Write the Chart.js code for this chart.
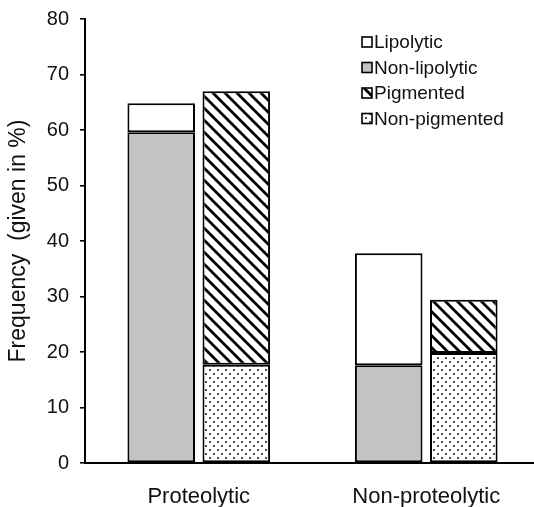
<!DOCTYPE html>
<html>
<head>
<meta charset="utf-8">
<script src="https://cdn.jsdelivr.net/npm/chart.js@4.4.0/dist/chart.umd.min.js"></script>
<style>
  html, body { margin: 0; padding: 0; background: #fff; overflow: hidden; }
  #wrap { position: relative; width: 540px; height: 507px; }
</style>
</head>
<body>
<div id="wrap"><canvas id="chart"></canvas></div>
<script>
const categories = ['Proteolytic', 'Non-proteolytic'];
const lipolytic = [5.2, 20.2];
const nonLipolytic = [59.6, 17.6];
const pigmented = [49.3, 9.6];
const nonPigmented = [17.7, 19.8];
const yTicks = [0, 10, 20, 30, 40, 50, 60, 70, 80];
const legendOrder = ['Lipolytic', 'Non-lipolytic', 'Pigmented', 'Non-pigmented'];

const FONT = "'Liberation Sans', Arial, sans-serif";

function makePattern(kind) {
  const c = document.createElement('canvas');
  const s = kind === 'hatch' ? 12 : 8;
  c.width = s; c.height = s;
  const g = c.getContext('2d');
  g.fillStyle = '#fff';
  g.fillRect(0, 0, s, s);
  g.fillStyle = '#000';
  g.strokeStyle = '#000';
  if (kind === 'hatch') {
    g.lineWidth = 2.8;
    g.beginPath();
    g.moveTo(-2, -2); g.lineTo(s + 2, s + 2);
    g.moveTo(-2, s - 2); g.lineTo(2, s + 2);
    g.moveTo(s - 2, -2); g.lineTo(s + 2, 2);
    g.stroke();
  } else {
    g.beginPath(); g.arc(2, 2, 0.95, 0, Math.PI * 2); g.fill();
    g.beginPath(); g.arc(6, 6, 0.95, 0, Math.PI * 2); g.fill();
  }
  return g.createPattern(c, 'repeat');
}

const hatch = makePattern('hatch');
const dots = makePattern('dots');
const grey = '#c3c3c3';

function bar(label, data, stack, fill) {
  return {
    label, data, stack,
    backgroundColor: fill,
    borderColor: '#000',
    borderWidth: 2,
    borderSkipped: false,
    barPercentage: 0.9,
    categoryPercentage: 0.66
  };
}

// small legend drawn inside the plot, top right
const insideLegend = {
  id: 'insideLegend',
  afterDraw(chart) {
    const ctx = chart.ctx;
    ctx.save();
    ctx.font = '19px ' + FONT;
    ctx.textBaseline = 'middle';
    legendOrder.forEach((name, i) => {
      const ds = chart.data.datasets.find(d => d.label === name);
      const y = 42 + i * 25.5;
      const x = 362;
      ctx.fillStyle = ds.backgroundColor;
      ctx.fillRect(x, y - 5, 10, 10);
      ctx.strokeStyle = '#000';
      ctx.lineWidth = 1.6;
      ctx.strokeRect(x, y - 5, 10, 10);
      ctx.fillStyle = '#111';
      ctx.fillText(name, x + 12, y + 1);
    });
    ctx.restore();
  }
};

new Chart(document.getElementById('chart'), {
  type: 'bar',
  data: {
    labels: categories,
    datasets: [
      bar('Non-lipolytic', nonLipolytic, 'lip', grey),
      bar('Lipolytic', lipolytic, 'lip', '#fff'),
      bar('Non-pigmented', nonPigmented, 'pig', dots),
      bar('Pigmented', pigmented, 'pig', hatch)
    ]
  },
  options: {
    responsive: true,
    maintainAspectRatio: false,
    animation: false,
    layout: { padding: { top: 19, left: 0, right: 0, bottom: 0 } },
    plugins: {
      legend: { display: false },
      tooltip: { enabled: false }
    },
    scales: {
      x: {
        stacked: true,
        grid: { display: false },
        border: { display: true, color: '#000', width: 2 },
        ticks: { color: '#111', font: { family: FONT, size: 22 }, padding: 13 },
        afterFit(scale) { scale.height = 44; }
      },
      y: {
        stacked: true,
        min: 0,
        max: 80,
        afterBuildTicks(scale) { scale.ticks = yTicks.map(v => ({ value: v })); },
        grid: { drawOnChartArea: false, drawTicks: true, tickLength: 5, color: '#000', lineWidth: 1.6 },
        border: { display: true, color: '#000', width: 2 },
        ticks: { color: '#111', font: { family: FONT, size: 20 }, padding: 11 },
        title: { display: true, text: 'Frequency  (given in %)', color: '#111', font: { family: FONT, size: 23 }, padding: { top: 5, bottom: 0 } },
        afterFit(scale) {
          scale.width = 85;
          scale.paddingTop = 0;
          scale.paddingBottom = 0;
        }
      }
    }
  },
  plugins: [insideLegend]
});
</script>
</body>
</html>
